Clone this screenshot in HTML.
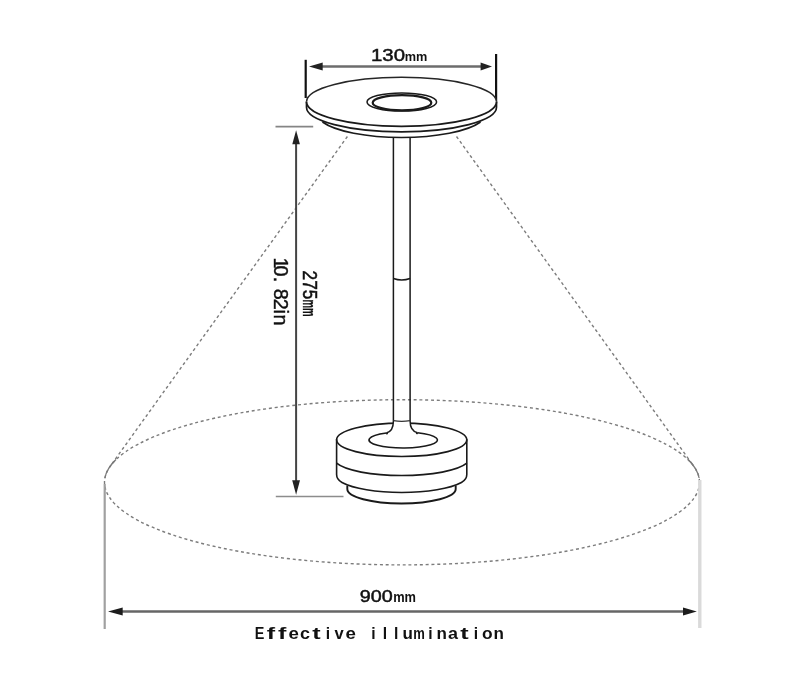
<!DOCTYPE html>
<html>
<head>
<meta charset="utf-8">
<title>Lamp dimensions</title>
<style>
html,body{margin:0;padding:0;background:#fff;}
body{width:790px;height:690px;overflow:hidden;font-family:"Liberation Sans",sans-serif;}
svg{display:block;will-change:transform;}
text{font-family:"Liberation Sans",sans-serif;fill:#111;}
</style>
</head>
<body>
<svg width="790" height="690" viewBox="0 0 790 690">
<rect width="790" height="690" fill="#fff"/>

<!-- illumination cone + ellipse -->
<g fill="none" stroke="#7c7c7c" stroke-width="1.4" stroke-dasharray="3 2.8">
  <ellipse cx="402" cy="482.3" rx="297.5" ry="82.6"/>
  <path d="M347.4 136.5 L110.3 466.1"/>
  <path d="M456.5 136.5 L693.7 466.1"/>
</g>

<g fill="none" stroke="#7a7a7a" stroke-width="1.3">
  <path d="M688 459.5 A297.5 82.6 0 0 1 699.1 478"/>
  <path d="M116 459.5 A297.5 82.6 0 0 0 104.9 478"/>
</g>

<!-- bottom dimension -->
<line x1="104.7" y1="484" x2="104.7" y2="629" stroke="#a0a0a0" stroke-width="2.2"/>
<line x1="699.8" y1="480" x2="699.8" y2="628" stroke="#dadada" stroke-width="3.4"/>
<line x1="118" y1="611.5" x2="687" y2="611.5" stroke="#666" stroke-width="2.5"/>
<path d="M108 611.5 L122.7 607.4 L122.7 615.6 Z" fill="#1c1c1c"/>
<path d="M696.8 611.5 L683 607.6 L683 615.4 Z" fill="#1c1c1c"/>

<!-- top dimension -->
<line x1="305.7" y1="59.8" x2="305.7" y2="98" stroke="#111" stroke-width="2.2"/>
<line x1="496.1" y1="54" x2="496.1" y2="101.5" stroke="#111" stroke-width="2.2"/>
<line x1="320" y1="66.5" x2="483" y2="66.5" stroke="#6c6c6c" stroke-width="2.3"/>
<path d="M309 66.6 L322.7 62.6 L322.7 70.6 Z" fill="#222"/>
<path d="M492 66.6 L480.6 62.6 L480.6 70.6 Z" fill="#222"/>

<!-- vertical dimension -->
<line x1="275.5" y1="126.6" x2="313.2" y2="126.6" stroke="#858585" stroke-width="1.6"/>
<line x1="275.8" y1="496.5" x2="343.5" y2="496.5" stroke="#8c8c8c" stroke-width="1.6"/>
<line x1="296.1" y1="138" x2="296.1" y2="486" stroke="#444" stroke-width="2"/>
<path d="M296.1 130.3 L292.3 144.2 L299.9 144.2 Z" fill="#222"/>
<path d="M296.1 494.8 L292.2 480.2 L300 480.2 Z" fill="#222"/>

<!-- lamp head -->
<g fill="none" stroke="#1a1a1a" stroke-width="1.7">
  <path d="M322.5 122 A85 24.6 0 0 0 480.5 122"/>
  <path d="M306.5 101.8 L306.5 107.3 A95 24.5 0 0 0 496.5 107.3 L496.5 101.8" fill="#fff"/>
  <ellipse cx="401.5" cy="101.8" rx="95" ry="24.5" fill="#fff" stroke="none"/>
  <path d="M306.5 101.8 A95 24.5 0 0 1 496.5 101.8" stroke="#262626" stroke-width="1.5"/>
  <path d="M306.5 101.8 A95 24.5 0 0 0 496.5 101.8" stroke-width="1.8"/>
  <ellipse cx="401.8" cy="102" rx="34.8" ry="9.1" stroke-width="1.5"/>
  <ellipse cx="402" cy="102.8" rx="29.3" ry="7.6" stroke-width="2.2"/>
</g>


<!-- base -->
<g fill="none" stroke="#1a1a1a" stroke-width="1.6">
  <path d="M347.3 485.5 L347.3 489 A54.2 14.5 0 0 0 455.7 489 L455.7 485.5" stroke-width="1.9"/>
  <path d="M336.6 439.3 L336.6 474.5 C336.6 478.5 338.5 480.6 342 482.5 A66.5 17.8 0 0 0 461.4 482.5 C464.9 480.6 466.8 478.5 466.8 474.5 L466.8 439.3"/>
  <path d="M336.6 463.2 A68 17.3 0 0 0 466.8 463.2"/>
  <ellipse cx="401.7" cy="439.8" rx="65.1" ry="16.7"/>
  <path d="M386.4 433 A34.2 8 0 1 0 417.5 432.7"/>
</g>

<!-- stem -->
<path d="M393.4 416 L393.4 421 C393.4 428.6 391 431.8 386.4 433 L392 436 L412 436 L417.5 432.7 C412.6 431.6 410.1 428.6 410.1 421 L410.1 416 Z" fill="#fff" stroke="none"/>
<g fill="none" stroke="#1a1a1a" stroke-width="1.5">
  <path d="M393.4 137 L393.4 421 C393.4 428.6 391 431.8 386.4 433"/>
  <path d="M410.1 137 L410.1 421 C410.1 428.6 412.6 431.6 417.5 432.7"/>
  <path d="M393.4 278.5 Q401.7 281.5 410.1 278.5"/>
  <path d="M393.4 420.6 Q401.7 422.2 410.1 420.6" stroke="#333" stroke-width="1.2"/>
  <path d="M386.4 433 L387.6 434.2 M417.5 432.7 L416.4 434" stroke-width="1.8"/>
</g>

<!-- labels -->
<text x="371" y="61.3" font-size="16.3" textLength="34" lengthAdjust="spacingAndGlyphs" stroke="#111" stroke-width="0.45">130</text>
<text x="404.8" y="61.3" font-size="13.7" textLength="22.6" lengthAdjust="spacingAndGlyphs" font-weight="bold">mm</text>

<text x="359.8" y="601.7" font-size="16.2" textLength="33" lengthAdjust="spacingAndGlyphs" stroke="#111" stroke-width="0.45">900</text>
<text x="393.2" y="601.7" font-size="14.6" textLength="22.8" lengthAdjust="spacingAndGlyphs" font-weight="bold">mm</text>

<g transform="translate(302.6 0) rotate(90)">
  <text x="270.6" y="0" font-size="19.7" textLength="28.7" lengthAdjust="spacingAndGlyphs" stroke="#111" stroke-width="0.55">275</text>
  <text x="299.4" y="0" font-size="17.8" textLength="17.2" lengthAdjust="spacingAndGlyphs" font-weight="bold" stroke="#111" stroke-width="0.3">mm</text>
</g>
<g transform="translate(274.2 0) rotate(90)" font-size="19.8" text-anchor="middle" stroke="#111" stroke-width="0.4">
  <text x="262.9" y="0">1</text><text x="271" y="0">0</text><text x="279.6" y="0">.</text>
  <text x="294.3" y="0">8</text><text x="304.2" y="0">2</text><text x="311.6" y="0">i</text><text x="319.9" y="0">n</text>
</g>

<g font-size="15.6" font-weight="bold">
  <text x="254.7" y="638.9" textLength="9.6" lengthAdjust="spacingAndGlyphs">E</text>
  <text x="266.7" y="638.9" textLength="8.4" lengthAdjust="spacingAndGlyphs">f</text>
  <text x="278.1" y="638.9" textLength="8.4" lengthAdjust="spacingAndGlyphs">f</text>
  <text x="288.5" y="638.9" textLength="10.4" lengthAdjust="spacingAndGlyphs">e</text>
  <text x="300.1" y="638.9" textLength="10.0" lengthAdjust="spacingAndGlyphs">c</text>
  <text x="312.2" y="638.9" textLength="8.4" lengthAdjust="spacingAndGlyphs">t</text>
  <text x="327.8" y="638.9" text-anchor="middle">i</text>
  <text x="334.6" y="638.9" textLength="9.2" lengthAdjust="spacingAndGlyphs">v</text>
  <text x="345.4" y="638.9" textLength="10.4" lengthAdjust="spacingAndGlyphs">e</text>
  <text x="373.4" y="638.9" text-anchor="middle">i</text>
  <text x="384.8" y="638.9" text-anchor="middle">l</text>
  <text x="396.2" y="638.9" text-anchor="middle">l</text>
  <text x="402.4" y="638.9" textLength="10.4" lengthAdjust="spacingAndGlyphs">u</text>
  <text x="413.2" y="638.9" textLength="11.6" lengthAdjust="spacingAndGlyphs">m</text>
  <text x="430.4" y="638.9" text-anchor="middle">i</text>
  <text x="436.5" y="638.9" textLength="10.4" lengthAdjust="spacingAndGlyphs">n</text>
  <text x="448.1" y="638.9" textLength="10.0" lengthAdjust="spacingAndGlyphs">a</text>
  <text x="460.3" y="638.9" textLength="8.4" lengthAdjust="spacingAndGlyphs">t</text>
  <text x="475.9" y="638.9" text-anchor="middle">i</text>
  <text x="482.0" y="638.9" textLength="10.6" lengthAdjust="spacingAndGlyphs">o</text>
  <text x="493.5" y="638.9" textLength="10.4" lengthAdjust="spacingAndGlyphs">n</text>
</g>
</svg>
</body>
</html>
